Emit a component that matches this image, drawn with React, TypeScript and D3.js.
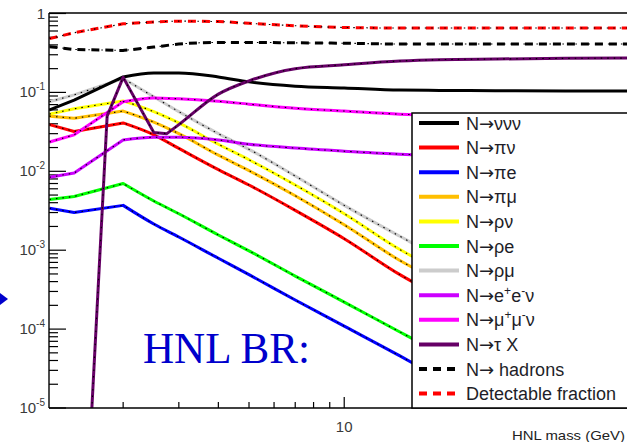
import React from 'react';
import * as d3 from 'd3';

// ---- data (HNL mass in GeV, branching ratio) ----
const massGrid = [1.17, 1.4, 2.0, 2.5, 3, 4, 5, 7, 10, 15, 20, 30, 50, 80, 100];

const brNuNuNu = [0.06, 0.08, 0.157, 0.176, 0.176, 0.157, 0.136, 0.12, 0.114, 0.107, 0.106, 0.105, 0.104, 0.104, 0.104];
const brPiNu = [0.039, 0.032, 0.041, 0.029, 0.0195, 0.0105, 0.0067, 0.0032, 0.0014, 0.00049, 0.00026, 0.000115, 0.000043, 0.000017, 0.00001];
const brPiE = [0.0034, 0.003, 0.0037, 0.00215, 0.00147, 0.00079, 0.00049, 0.000234, 0.000109, 0.0000457, 0.000024, 0.00001, 0.0000038, 0.0000014, 0.000001];
const brPiMu = [0.05, 0.047, 0.058, 0.042, 0.03, 0.016, 0.0102, 0.0049, 0.0021, 0.00074, 0.0004, 0.00017, 0.000065, 0.000025, 0.000015];
const brRhoNu = [0.053, 0.062, 0.078, 0.057, 0.041, 0.022, 0.014, 0.0067, 0.0029, 0.00102, 0.00055, 0.00024, 0.00009, 0.000035, 0.00002];
const brRhoE = [0.0044, 0.0048, 0.007, 0.0042, 0.0029, 0.00156, 0.00098, 0.00047, 0.00022, 0.000092, 0.00005, 0.000022, 0.000008, 0.000003, 0.000002];
const brRhoMu = [0.076, 0.093, 0.15, 0.088, 0.057, 0.03, 0.019, 0.0087, 0.0037, 0.0015, 0.0008, 0.00035, 0.00013, 0.00005, 0.00003];
const brEENu = [0.0084, 0.0095, 0.025, 0.027, 0.027, 0.025, 0.022, 0.0197, 0.018, 0.0165, 0.016, 0.0155, 0.015, 0.015, 0.015];
const brMuMuNu = [0.0235, 0.029, 0.076, 0.085, 0.083, 0.077, 0.071, 0.063, 0.058, 0.053, 0.051, 0.05, 0.049, 0.048, 0.048];
const brHadrons = [0.38, 0.35, 0.34, 0.375, 0.41, 0.43, 0.43, 0.425, 0.42, 0.41, 0.41, 0.41, 0.41, 0.41, 0.41];
const brDetectable = [0.48, 0.57, 0.74, 0.78, 0.8, 0.79, 0.75, 0.7, 0.665, 0.655, 0.655, 0.655, 0.655, 0.655, 0.655];

const tauMass = [1.5, 1.78, 2.0, 2.5, 2.75, 3, 4, 5, 7, 10, 15, 20, 30, 50, 80, 100];
const brTauX = [1e-7, 0.05, 0.155, 0.031, 0.03, 0.039, 0.095, 0.14, 0.2, 0.224, 0.25, 0.26, 0.265, 0.27, 0.272, 0.272];

const yTickExps = [0, -1, -2, -3, -4, -5];
const xMajorTicks = [10];

type Series = { label: string; masses: number[]; values: number[]; color: string; dashed?: boolean; kink: number };

const series: Series[] = [
  { label: 'N→ννν', masses: massGrid, values: brNuNuNu, color: '#000000', kink: 2 },
  { label: 'N→πν', masses: massGrid, values: brPiNu, color: '#ff0000', kink: 2 },
  { label: 'N→πe', masses: massGrid, values: brPiE, color: '#0000ff', kink: 2 },
  { label: 'N→πμ', masses: massGrid, values: brPiMu, color: '#ffbf00', kink: 2 },
  { label: 'N→ρν', masses: massGrid, values: brRhoNu, color: '#ffff00', kink: 2 },
  { label: 'N→ρe', masses: massGrid, values: brRhoE, color: '#00ff00', kink: 2 },
  { label: 'N→ρμ', masses: massGrid, values: brRhoMu, color: '#cccccc', kink: 2 },
  { label: 'N→e+e-ν', masses: massGrid, values: brEENu, color: '#cc00ff', kink: 2 },
  { label: 'N→μ+μ-ν', masses: massGrid, values: brMuMuNu, color: '#ff00ff', kink: 2 },
  { label: 'N→τ X', masses: tauMass, values: brTauX, color: '#660066', kink: 4 },
  { label: 'N→ hadrons', masses: massGrid, values: brHadrons, color: '#000000', dashed: true, kink: 2 },
  { label: 'Detectable fraction', masses: massGrid, values: brDetectable, color: '#ff0000', dashed: true, kink: 2 },
];

const drawOrder = [6, 4, 3, 1, 5, 2, 7, 8, 0, 10, 11, 9];

const ARROW_FONT = "'DejaVu Sans', sans-serif";

function LegendLabel({ text }: { text: string }) {
  if (text.indexOf('→') < 0) return <>{text}</>;
  const [pre, post] = text.split('→');
  if (post === 'e+e-ν' || post === 'μ+μ-ν') {
    const a = post[0];
    return (
      <>
        <tspan>{pre}</tspan>
        <tspan fontFamily={ARROW_FONT}>→</tspan>
        <tspan>{a}</tspan>
        <tspan dy={-7} fontSize={12}>+</tspan>
        <tspan dy={7}>{a}</tspan>
        <tspan dy={-7} fontSize={12}>-</tspan>
        <tspan dy={7}>ν</tspan>
      </>
    );
  }
  return (
    <>
      <tspan>{pre}</tspan>
      <tspan fontFamily={ARROW_FONT}>→</tspan>
      <tspan>{post}</tspan>
    </>
  );
}

export default function App() {
  const W = 627, H = 442;
  const left = 49, top = 13, bottom = 408, right = 660;
  const x = d3.scaleLog().domain([1.17, 100]).range([49.5, 660.5]);
  const y = d3.scaleLog().domain([1e-5, 1]).range([408, 13.5]);
  const lineLin = d3.line<[number, number]>().x(d => x(d[0])).y(d => y(d[1]));
  const lineSmooth = d3.line<[number, number]>().x(d => x(d[0])).y(d => y(d[1])).curve(d3.curveMonotoneX);

  const yMinor: number[] = [];
  for (let e = -5; e < 0; e++) for (let k = 2; k <= 9; k++) yMinor.push(k * Math.pow(10, e));
  const xMinor: number[] = [];
  for (let k = 2; k <= 9; k++) xMinor.push(k);
  for (let k = 20; k <= 90; k += 10) xMinor.push(k);

  return (
    <svg width={W} height={H} style={{ position: 'absolute', left: 0, top: 0, background: '#fff' }}
      fontFamily="'Liberation Sans', Arial, sans-serif">
      <defs>
        <clipPath id="plot">
          <rect x={left} y={top} width={right - left} height={bottom - top} />
        </clipPath>
      </defs>
      <rect x={0} y={0} width={W} height={H} fill="#fff" />

      {/* ticks */}
      <g stroke="#000" strokeWidth={1.2}>
        {yTickExps.map(e => (
          <line key={'ym' + e} x1={left} x2={left + 17} y1={y(Math.pow(10, e))} y2={y(Math.pow(10, e))} />
        ))}
        {yMinor.map((v, i) => (
          <line key={'yn' + i} x1={left} x2={left + 9} y1={y(v)} y2={y(v)} />
        ))}
        {xMinor.map((v, i) => (
          <line key={'xn' + i} x1={x(v)} x2={x(v)} y1={bottom} y2={bottom - 6} />
        ))}
        {xMajorTicks.map(v => (
          <line key={'xm' + v} x1={x(v)} x2={x(v)} y1={bottom} y2={bottom - 11} />
        ))}
      </g>

      {/* curves */}
      <g clipPath="url(#plot)" fill="none">
        {drawOrder.map(i => {
          const s = series[i];
          const pts = s.masses.map((m, j) => [m, s.values[j]] as [number, number]);
          const d1 = lineLin(pts.slice(0, s.kink + 1)) || '';
          const d2 = lineSmooth(pts.slice(s.kink)) || '';
          const d = d1 + 'L' + d2.slice(1);
          return (
            <g key={'s' + i}>
              <path d={d} stroke={s.color} strokeWidth={3} strokeDasharray={s.dashed ? '8 6' : undefined} strokeLinejoin="round" />
              <path d={d} stroke="#000" strokeWidth={1.1} strokeDasharray="1.5 5" />
            </g>
          );
        })}
      </g>

      {/* frame */}
      <g stroke="#000" strokeWidth={1.4} fill="none">
        <line x1={left} x2={left} y1={top} y2={bottom} />
        <line x1={left} x2={right} y1={bottom} y2={bottom} />
        <line x1={left} x2={right} y1={top} y2={top} />
      </g>

      {/* legend */}
      <rect x={412} y={113} width={260} height={295} fill="#fff" stroke="#000" strokeWidth={1.5} />
      {series.map((s, i) => {
        const cy = 123 + i * 24.6;
        return (
          <g key={'lg' + i}>
            <line x1={419} x2={459} y1={cy} y2={cy} stroke={s.color} strokeWidth={4}
              strokeDasharray={s.dashed ? '8 6' : undefined} />
            <text x={466} y={cy + 6.5} fontSize={18} fill="#1e1e28">
              <LegendLabel text={s.label} />
            </text>
          </g>
        );
      })}

      {/* tick labels */}
      <g fill="#3a3a3a" fontSize={15}>
        {yTickExps.map(e => (
          <text key={'yl' + e} x={45} y={y(Math.pow(10, e)) + 5} textAnchor="end">
            {e === 0 ? '1' : (<><tspan>10</tspan><tspan dy={-7} fontSize={10}>{String(e)}</tspan></>)}
          </text>
        ))}
        {xMajorTicks.map(v => (
          <text key={'xl' + v} x={x(v)} y={432} textAnchor="middle">{String(v)}</text>
        ))}
      </g>
      <text x={512} y={440} fontSize={13.5} fill="#222" textLength={113} lengthAdjust="spacingAndGlyphs">HNL mass (GeV)</text>

      {/* annotation */}
      <text x={143} y={363} fontSize={44} fill="#0000cc" fontFamily="'Liberation Serif', 'Times New Roman', serif"
        textLength={167} lengthAdjust="spacingAndGlyphs">HNL BR:</text>
      <polygon points="0,293 8,299 0,305" fill="#0000cc" />
    </svg>
  );
}
